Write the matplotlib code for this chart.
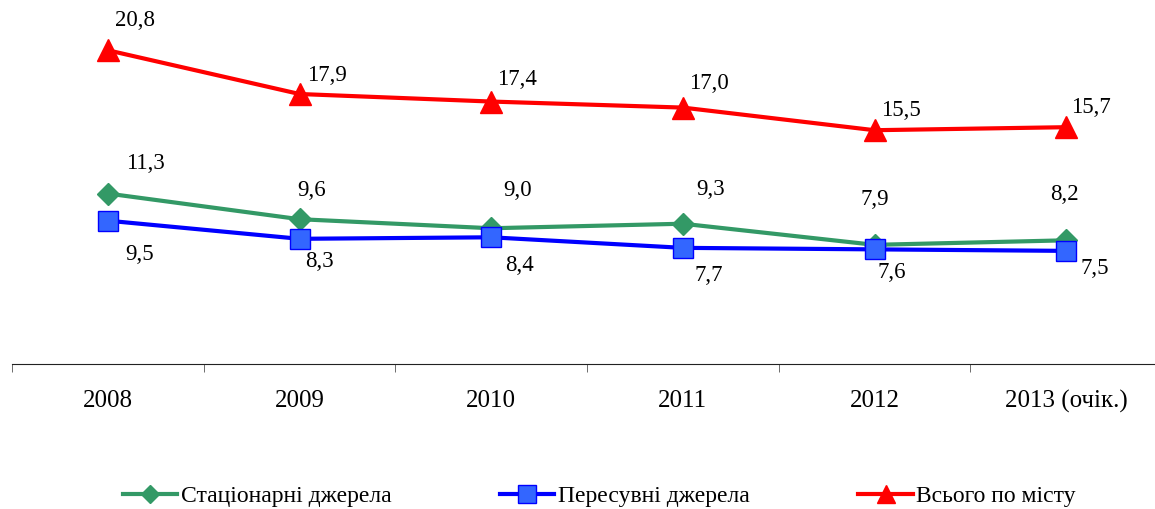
import matplotlib.pyplot as plt
from matplotlib.ticker import FixedLocator

years = ["2008", "2009", "2010", "2011", "2012", "2013 (очік.)"]
stationary = [11.3, 9.6, 9.0, 9.3, 7.9, 8.2]
mobile = [9.5, 8.3, 8.4, 7.7, 7.6, 7.5]
total = [20.8, 17.9, 17.4, 17.0, 15.5, 15.7]

# зсуви підписів (у пікселях), як вони стоять на оригіналі
off_stat = [(38, 30), (12, 29), (26, 38), (28, 34), (0, 45), (-2, 46)]
off_mob = [(32, -34), (20, -23), (28, -28), (26, -28), (17, -23), (29, -18)]
off_tot = [(27, 30), (27, 19), (26, 22), (26, 24), (26, 20), (25, 20)]

plt.rcParams["font.family"] = ["Liberation Serif", "DejaVu Serif"]

fig = plt.figure(figsize=(11.55, 5.09), dpi=100)
ax = fig.add_axes([12 / 1155, 145 / 509, 1150 / 1155, 362 / 509])

x = list(range(len(years)))
ax.plot(x, stationary, color="#339966", lw=3, marker="D", ms=11,
        mfc="#339966", mec="#339966", label="Стаціонарні джерела", zorder=3)
ax.plot(x, mobile, color="#0000FF", lw=3, marker="s", ms=15,
        mfc="#3366FF", mec="#0000FF", mew=1, label="Пересувні джерела", zorder=4)
ax.plot(x, total, color="#FF0000", lw=3, marker="^", ms=16,
        mfc="#FF0000", mec="#FF0000", label="Всього по місту", zorder=3)

for vals, offs in ((stationary, off_stat), (mobile, off_mob), (total, off_tot)):
    for xi, v, (dx, dy) in zip(x, vals, offs):
        ax.annotate(f"{v:.1f}".replace(".", ","), (xi, v), xytext=(dx, dy),
                    textcoords="offset pixels", ha="center", va="center",
                    fontsize=16.5)

ax.set_xlim(-0.5, 5.5)
ax.set_ylim(0, 24)
ax.set_xticks(x)
ax.set_xticklabels(years, fontsize=18)
ax.tick_params(axis="x", which="major", length=0, pad=19)
ax.xaxis.set_minor_locator(FixedLocator([i - 0.5 for i in range(len(years) + 1)]))
ax.tick_params(axis="x", which="minor", length=6, direction="out", color="#555555")
ax.set_yticks([])
for s in ("top", "right", "left"):
    ax.spines[s].set_visible(False)
ax.spines["bottom"].set_color("#222222")

fig.legend(loc="center", bbox_to_anchor=(0.519, 0.025), ncol=3, frameon=False,
           fontsize=17, handlelength=2.3, columnspacing=4.6, handletextpad=0.15,
           markerscale=0.85)

fig.savefig("out.png", dpi=100)
